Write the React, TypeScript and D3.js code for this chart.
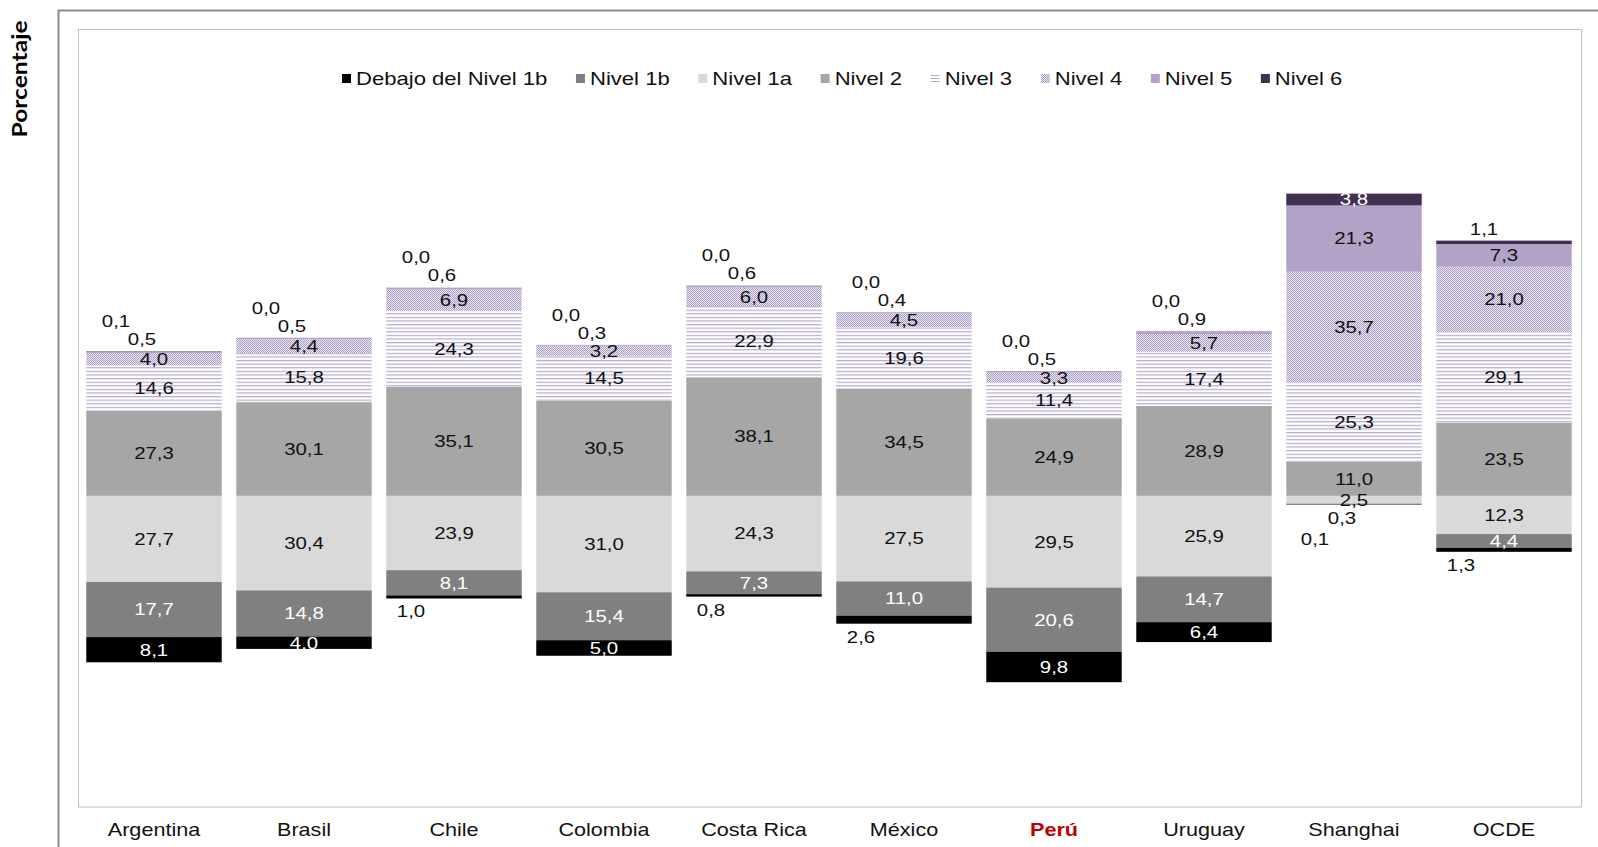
import React, { useMemo } from "react";
import * as d3 from "d3";

const countries = ["Argentina", "Brasil", "Chile", "Colombia", "Costa Rica", "México", "Perú", "Uruguay", "Shanghai", "OCDE"];
const levelNames = ["Debajo del Nivel 1b", "Nivel 1b", "Nivel 1a", "Nivel 2", "Nivel 3", "Nivel 4", "Nivel 5", "Nivel 6"];
const debajo1b = [8.1, 4.0, 1.0, 5.0, 0.8, 2.6, 9.8, 6.4, 0.1, 1.3];
const nivel1b = [17.7, 14.8, 8.1, 15.4, 7.3, 11.0, 20.6, 14.7, 0.3, 4.4];
const nivel1a = [27.7, 30.4, 23.9, 31.0, 24.3, 27.5, 29.5, 25.9, 2.5, 12.3];
const nivel2 = [27.3, 30.1, 35.1, 30.5, 38.1, 34.5, 24.9, 28.9, 11.0, 23.5];
const nivel3 = [14.6, 15.8, 24.3, 14.5, 22.9, 19.6, 11.4, 17.4, 25.3, 29.1];
const nivel4 = [4.0, 4.4, 6.9, 3.2, 6.0, 4.5, 3.3, 5.7, 35.7, 21.0];
const nivel5 = [0.5, 0.5, 0.6, 0.3, 0.6, 0.4, 0.5, 0.9, 21.3, 7.3];
const nivel6 = [0.1, 0.0, 0.0, 0.0, 0.0, 0.0, 0.0, 0.0, 3.8, 1.1];
const yDomain = [-100, 150];
const highlightCountry = "Perú";

const seriesValues = [debajo1b, nivel1b, nivel1a, nivel2, nivel3, nivel4, nivel5, nivel6];

const W = 1598;
const H = 847;
const SX = 1.2; // horizontal text stretch seen in the reference
const FONT = "'Liberation Sans', Arial, sans-serif";

const fills = ["#000000", "#808080", "#d9d9d9", "#a6a6a6", "url(#pN3)", "url(#pN4)", "#b3a2c7", "#403152"];
const legendFills = ["#000000", "#808080", "#d9d9d9", "#a6a6a6", "url(#pN3L)", "url(#pN4)", "#b3a2c7", "#403152"];
const labelColors = ["#ffffff", "#ffffff", "#111111", "#111111", "#111111", "#111111", "#111111", "#ffffff"];
const insideMin = [3.5, 1, 0, 0, 0, 0, 3, 3];

function fmt(v: number) {
  return v.toFixed(1).replace(".", ",");
}

const SText = ({ x, y, anchor = "middle", size = 17, fill = "#111", weight = "normal", children }: any) => (
  <text
    transform={`translate(${x},${y}) scale(${SX},1)`}
    textAnchor={anchor}
    dominantBaseline="central"
    fontFamily={FONT}
    fontSize={size}
    fontWeight={weight}
    fill={fill}
  >
    {children}
  </text>
);

export default function App() {
  const x = d3.scaleBand<string>().domain(countries).range([79, 1579]).paddingInner(0.097).paddingOuter(0.0485);
  const y = d3.scaleLinear().domain(yDomain).range([807, 29]);
  const bw = x.bandwidth();

  const measure = useMemo(() => {
    const c = document.createElement("canvas").getContext("2d")!;
    return (t: string, size: number) => {
      c.font = `${size}px 'Liberation Sans', Arial, sans-serif`;
      return c.measureText(t).width;
    };
  }, []);

  const bars: any[] = [];
  const labels: any[] = [];
  countries.forEach((c, ci) => {
    const cx = (x(c) as number) + bw / 2;
    let acc = 0;
    const belowOut: any[] = [];
    [2, 1, 0].forEach((si) => {
      const v = seriesValues[si][ci];
      const y0 = y(-acc);
      const y1 = y(-(acc + v));
      bars.push(<rect key={`b${ci}-${si}`} x={x(c)} y={y0} width={bw} height={y1 - y0} fill={fills[si]} />);
      if (v >= insideMin[si]) {
        labels.push({ key: `l${ci}-${si}`, x: cx, y: (y0 + y1) / 2, t: fmt(v), fill: labelColors[si] });
      } else belowOut.push({ si, v });
      acc += v;
    });
    const bottom = y(-acc);
    belowOut.forEach((o, i) => {
      const dx = belowOut.length === 1 ? -43 : [-12, -39][i];
      const dy = belowOut.length === 1 ? 13 : [13, 34][i];
      labels.push({ key: `lo${ci}-${o.si}`, x: cx + dx, y: bottom + dy, t: fmt(o.v), fill: "#111" });
    });
    acc = 0;
    const aboveOut: any[] = [];
    [3, 4, 5, 6, 7].forEach((si) => {
      const v = seriesValues[si][ci];
      const y0 = y(acc);
      const y1 = y(acc + v);
      if (v > 0) bars.push(<rect key={`b${ci}-${si}`} x={x(c)} y={y1} width={bw} height={y0 - y1} fill={fills[si]} />);
      if (v >= insideMin[si]) {
        labels.push({ key: `l${ci}-${si}`, x: cx, y: (y0 + y1) / 2, t: fmt(v), fill: labelColors[si] });
      } else aboveOut.push({ si, v });
      acc += v;
    });
    const top = y(acc);
    aboveOut.forEach((o, i) => {
      const dx = aboveOut.length === 1 ? -20 : [-12, -38][i];
      const dy = [-12, -30][i];
      labels.push({ key: `la${ci}-${o.si}`, x: cx + dx, y: top + dy, t: fmt(o.v), fill: "#111" });
    });
  });

  const legendItems: any[] = [];
  let lx = 342;
  const ly = 78.5;
  const lSize = 18.4;
  levelNames.forEach((n, i) => {
    const tw = measure(n, lSize) * SX;
    legendItems.push({ n, i, x: lx });
    lx += 14 + tw + 28.6;
  });

  return (
    <svg width={W} height={H} style={{ position: "absolute", left: 0, top: 0, background: "#fff" }}>
      <defs>
        <pattern id="pN3" width="8" height="3.6" patternUnits="userSpaceOnUse">
          <rect width="8" height="3.6" fill="#ffffff" />
          <rect width="8" height="1.2" fill="#b6a8d0" />
        </pattern>
        <pattern id="pN3L" width="8" height="3" patternUnits="userSpaceOnUse">
          <rect width="8" height="3" fill="#ffffff" />
          <rect width="8" height="1" fill="#b6a8d0" />
        </pattern>
        <pattern id="pN4" width="2" height="2" patternUnits="userSpaceOnUse">
          <rect width="2" height="2" fill="#eeeaf4" />
          <rect width="1" height="1" fill="#aa9ac7" />
          <rect x="1" y="1" width="1" height="1" fill="#aa9ac7" />
        </pattern>
      </defs>
      <rect width={W} height={H} fill="#fff" />
      <path d={`M58.5,${H} V10.5 H${W}`} fill="none" stroke="#8c8c8c" strokeWidth={2} />
      <rect x={78.5} y={29.5} width={1503} height={777.5} fill="#fff" stroke="#bfbfbf" strokeWidth={1} />
      <text
        transform="translate(27,79) rotate(-90) scale(1.2,1)"
        textAnchor="middle"
        fontFamily="Lato, 'Open Sans', sans-serif"
        fontWeight="bold"
        fontSize={20.5}
        fill="#000"
      >
        Porcentaje
      </text>
      {legendItems.map((it) => (
        <g key={it.n}>
          <rect x={it.x} y={ly - 4.5} width={9} height={9} fill={legendFills[it.i]} />
          <SText x={it.x + 14} y={ly} anchor="start" size={lSize}>
            {it.n}
          </SText>
        </g>
      ))}
      {bars}
      {labels.map((l) => (
        <SText key={l.key} x={l.x} y={l.y} fill={l.fill} size={17}>
          {l.t}
        </SText>
      ))}
      {countries.map((c) => (
        <SText
          key={c}
          x={(x(c) as number) + bw / 2}
          y={830}
          size={18}
          fill={c === highlightCountry ? "#c00000" : "#111"}
          weight={c === highlightCountry ? "bold" : "normal"}
        >
          {c}
        </SText>
      ))}
    </svg>
  );
}
